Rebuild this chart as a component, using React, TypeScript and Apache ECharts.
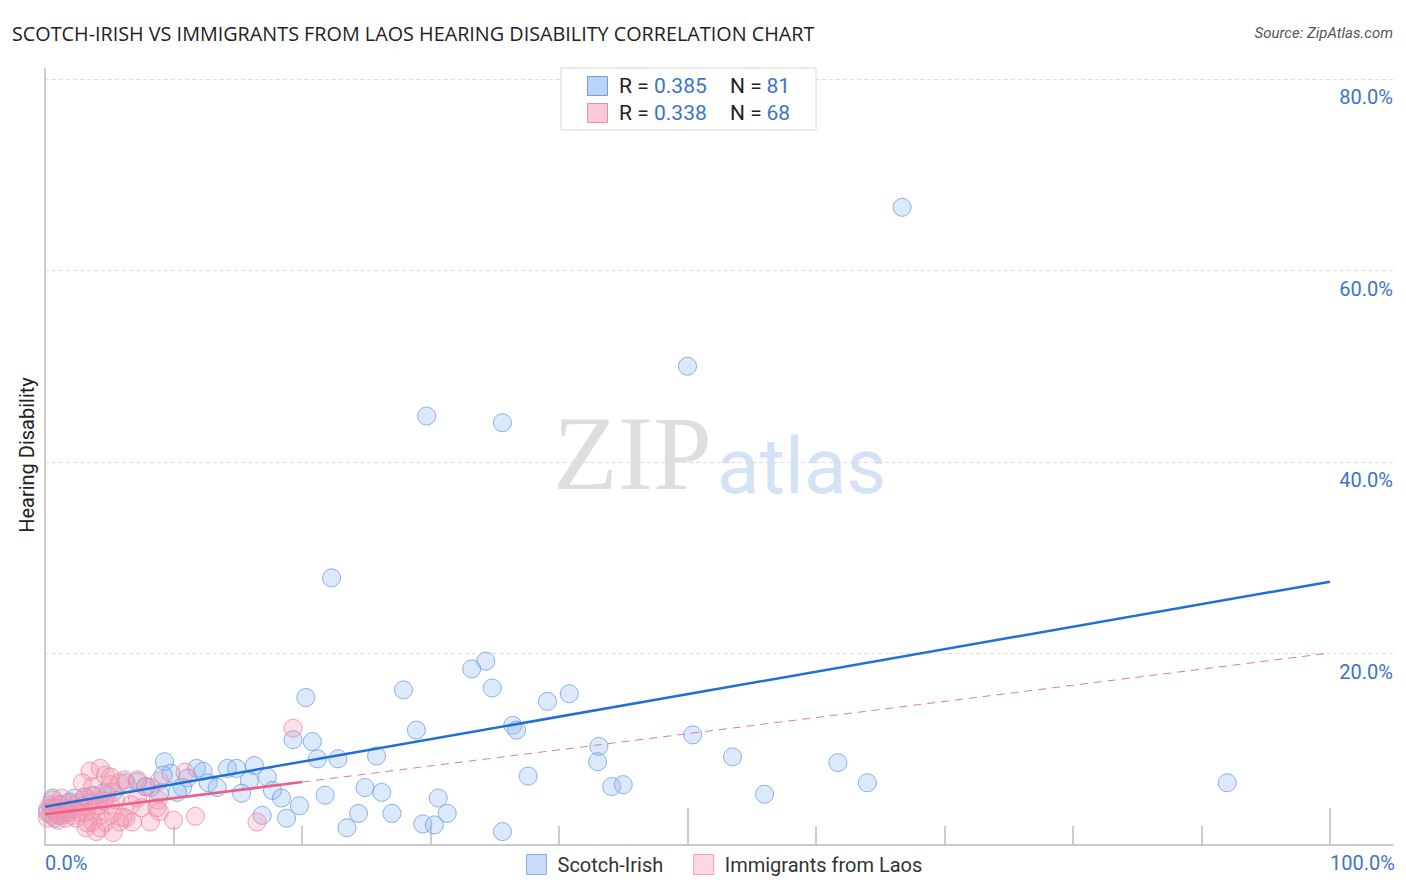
import React, { useEffect, useRef } from "react";
import * as echarts from "echarts";

const blueName = "Scotch-Irish";
const pinkName = "Immigrants from Laos";

const bluePoints: [number, number][] = [
  [66.7, 66.6], [50.0, 50.0], [29.7, 44.8], [35.6, 44.1], [22.3, 27.9],
  [34.3, 19.2], [33.2, 18.4], [34.8, 16.4], [27.9, 16.2], [40.8, 15.8],
  [39.1, 15.0], [20.3, 15.4], [36.4, 12.5], [36.7, 12.0], [28.9, 12.0],
  [50.4, 11.5], [19.3, 11.0], [20.8, 10.8], [43.1, 10.3], [21.2, 9.0],
  [22.8, 9.0], [25.8, 9.3], [53.5, 9.2], [43.0, 8.7], [61.7, 8.6],
  [9.3, 8.7], [9.8, 7.5], [11.8, 8.0], [12.3, 7.7], [14.2, 8.0],
  [14.9, 8.0], [16.3, 8.3], [17.3, 7.1], [37.6, 7.2], [64.0, 6.5],
  [92.0, 6.5], [44.1, 6.1], [45.0, 6.3], [24.9, 6.0], [26.2, 5.5],
  [21.8, 5.2], [17.7, 5.7], [18.4, 4.9], [56.0, 5.3], [30.6, 4.9],
  [19.8, 4.1], [16.9, 3.1], [18.8, 2.8], [24.4, 3.3], [27.0, 3.3],
  [31.3, 3.3], [23.5, 1.8], [29.4, 2.2], [30.3, 2.1], [35.6, 1.4],
  [11.1, 7.0], [12.7, 6.5], [13.4, 6.0], [15.9, 6.7], [15.3, 5.4],
  [10.7, 6.0], [10.3, 5.5], [8.9, 5.4], [8.2, 6.0], [9.2, 7.3],
  [6.3, 6.5], [7.2, 6.6], [7.8, 6.1], [5.3, 5.5], [4.5, 5.4],
  [3.7, 5.2], [3.1, 5.0], [2.3, 4.9], [0.6, 4.9], [0.8, 2.8],
  [0.5, 3.9], [1.2, 4.2], [0.2, 3.4], [1.6, 3.4], [1.9, 4.5],
  [1.0, 3.1],
];

const pinkPoints: [number, number][] = [
  [19.3, 12.2], [16.5, 2.4], [11.7, 3.0], [10.0, 2.6], [8.2, 2.4],
  [8.7, 3.9], [8.8, 4.7], [8.9, 6.7], [10.9, 7.6], [3.5, 7.7],
  [4.3, 8.0], [4.7, 7.3], [2.9, 6.5], [5.1, 7.1], [6.2, 6.8],
  [7.2, 6.8], [7.9, 6.1], [3.7, 6.1], [5.1, 6.3], [5.8, 6.5],
  [6.7, 4.2], [7.2, 4.9], [4.3, 3.1], [5.3, 3.3], [6.3, 2.8],
  [6.8, 2.4], [5.8, 2.4], [4.7, 2.4], [3.7, 2.4], [3.2, 1.8],
  [4.0, 1.4], [5.3, 1.3], [6.1, 2.9], [3.3, 2.3], [4.3, 1.8],
  [0.2, 3.7], [0.4, 4.2], [0.5, 3.1], [0.8, 3.9], [0.9, 3.4],
  [1.2, 4.2], [1.3, 3.1], [1.6, 3.8], [1.8, 3.4], [1.9, 4.3],
  [2.1, 3.1], [2.3, 3.8], [2.6, 4.4], [2.7, 3.4], [3.0, 4.1],
  [3.2, 3.4], [3.5, 4.4], [3.7, 3.7], [4.1, 4.1], [4.6, 4.6],
  [5.1, 4.2], [5.5, 4.7], [0.6, 4.7], [1.0, 2.6], [0.2, 2.8],
  [1.6, 2.8], [2.4, 2.8], [1.3, 4.9], [3.1, 5.0], [3.9, 5.1],
  [4.8, 5.2], [7.5, 3.9], [8.9, 3.5],
];

const blueTrend: [number, number][] = [[0, 4.0], [100, 27.5]];
const pinkTrendSolid: [number, number][] = [[0, 3.2], [20, 6.57]];
const pinkTrendDashed: [number, number][] = [[20, 6.57], [100, 20.05]];

const xTicksShort = [10, 20, 30, 40, 60, 70, 80, 90];
const xTicksLong = [50, 100];
const xLabelValues = [0, 100];

const legendRows = [
  { r: "0.385", n: "81" },
  { r: "0.338", n: "68" },
];

const FONT = "Roboto, 'Noto Sans', sans-serif";
const TITLE_FONT = "'Open Sans', Roboto, sans-serif";
const BLUE_FILL = "rgba(140,182,240,0.38)";
const BLUE_BORDER = "#6f9fe2";
const PINK_FILL = "rgba(245,150,178,0.38)";
const PINK_BORDER = "#ef89a8";
const LABEL_BLUE = "#3b74c9";

export default function App() {
  const ref = useRef<HTMLDivElement>(null);
  useEffect(() => {
    if (!ref.current) return;
    const chart = echarts.init(ref.current, undefined, { renderer: "svg" });
    const legendGraphics: any[] = [
      {
        type: "rect",
        shape: { x: 561, y: 68, width: 255, height: 62 },
        style: { fill: "#fff", stroke: "#d6d6d6", lineWidth: 1 },
        z: 10,
      },
    ];
    legendRows.forEach((row, i) => {
      const cy = 86 + i * 27;
      legendGraphics.push(
        {
          type: "rect",
          shape: { x: 587.5, y: cy - 9.5, width: 20, height: 19 },
          style: {
            fill: i === 0 ? "rgba(140,182,240,0.6)" : "rgba(245,150,178,0.5)",
            stroke: i === 0 ? BLUE_BORDER : PINK_BORDER,
            lineWidth: 1,
          },
          z: 11,
        },
        {
          type: "text",
          x: 619,
          y: cy,
          style: { text: "R =", fill: "#222", font: `21px ${FONT}`, verticalAlign: "middle" },
          z: 11,
        },
        {
          type: "text",
          x: 654,
          y: cy,
          style: { text: row.r, fill: LABEL_BLUE, font: `21px ${FONT}`, verticalAlign: "middle" },
          z: 11,
        },
        {
          type: "text",
          x: 730,
          y: cy,
          style: { text: "N =", fill: "#222", font: `21px ${FONT}`, verticalAlign: "middle" },
          z: 11,
        },
        {
          type: "text",
          x: 790,
          y: cy,
          style: { text: row.n, fill: LABEL_BLUE, font: `21px ${FONT}`, verticalAlign: "middle", align: "right" },
          z: 11,
        }
      );
    });

    const option: any = {
      animation: false,
      backgroundColor: "#fff",
      textStyle: { fontFamily: FONT },
      grid: { left: 45, right: 13, top: 79, bottom: 47, containLabel: false },
      xAxis: [
        {
          type: "value",
          min: 0,
          max: 104.9,
          position: "bottom",
          axisLine: { show: true, lineStyle: { color: "#bdbdbd", width: 1.5 } },
          axisTick: {
            show: true,
            inside: true,
            length: 19,
            customValues: xTicksShort,
            lineStyle: { color: "#bdbdbd", width: 1.5 },
          },
          axisLabel: {
            show: true,
            customValues: xLabelValues,
            align: "left",
            margin: 8,
            fontSize: 20,
            color: LABEL_BLUE,
            fontFamily: FONT,
            formatter: (v: number) => v.toFixed(1) + "%",
          },
          splitLine: { show: false },
        },
        {
          type: "value",
          min: 0,
          max: 104.9,
          position: "bottom",
          axisLine: { show: false },
          axisTick: {
            show: true,
            inside: true,
            length: 37,
            customValues: xTicksLong,
            lineStyle: { color: "#bdbdbd", width: 1.5 },
          },
          axisLabel: { show: false },
          splitLine: { show: false },
        },
      ],
      yAxis: {
        type: "value",
        min: 0,
        max: 80,
        interval: 20,
        position: "right",
        axisLine: { show: false },
        axisTick: { show: false },
        axisLabel: {
          inside: true,
          margin: 0,
          verticalAlign: "top",
          padding: [8, 0, 0, 0],
          fontSize: 20,
          color: LABEL_BLUE,
          fontFamily: FONT,
          formatter: (v: number) => (v === 0 ? "" : v.toFixed(1) + "%"),
        },
        splitLine: { show: true, lineStyle: { color: "#dcdcdc", type: [4, 3], width: 1 } },
      },
      legend: {
        data: [
          { name: blueName, itemStyle: { color: "rgba(140,182,240,0.6)", borderColor: BLUE_BORDER, borderWidth: 1 } },
          { name: pinkName, itemStyle: { color: "rgba(245,150,178,0.45)", borderColor: PINK_BORDER, borderWidth: 1 } },
        ],
        bottom: 12,
        left: 521,
        icon: "rect",
        itemWidth: 20,
        itemHeight: 20,
        itemGap: 30,
        textStyle: { fontSize: 20, color: "#333", fontFamily: FONT, padding: [0, 0, 0, 6] },
      },
      graphic: [
        {
          type: "line",
          shape: { x1: 45, y1: 68, x2: 45, y2: 845 },
          style: { stroke: "#bdbdbd", lineWidth: 1.5 },
        },
        {
          type: "text",
          x: 12,
          y: 33,
          style: {
            text: "SCOTCH-IRISH VS IMMIGRANTS FROM LAOS HEARING DISABILITY CORRELATION CHART",
            fill: "#222",
            font: `19.8px ${TITLE_FONT}`,
            verticalAlign: "middle",
          },
        },
        {
          type: "text",
          x: 1393,
          y: 33,
          style: {
            text: "Source: ZipAtlas.com",
            fill: "#555",
            font: `italic 15px ${FONT}`,
            align: "right",
            verticalAlign: "middle",
          },
        },
        {
          type: "text",
          x: 27,
          y: 455,
          rotation: Math.PI / 2,
          style: {
            text: "Hearing Disability",
            fill: "#222",
            font: `20px ${FONT}`,
            align: "center",
            verticalAlign: "middle",
          },
        },
        {
          type: "text",
          x: 553,
          y: 506,
          z: 0,
          style: {
            text: "ZIP",
            fill: "rgba(0,0,0,0.13)",
            font: `106px 'Liberation Serif', 'DejaVu Serif', serif`,
            verticalAlign: "bottom",
          },
        },
        {
          type: "text",
          x: 717,
          y: 505,
          z: 0,
          style: {
            text: "atlas",
            fill: "rgba(100,150,220,0.28)",
            font: `78px ${FONT}`,
            verticalAlign: "bottom",
          },
        },
        ...legendGraphics,
      ],
      series: [
        {
          name: blueName,
          type: "scatter",
          data: bluePoints,
          symbolSize: 18,
          itemStyle: { color: BLUE_FILL, borderColor: BLUE_BORDER, borderWidth: 1 },
          z: 2,
        },
        {
          name: pinkName,
          type: "scatter",
          data: pinkPoints,
          symbolSize: 18,
          itemStyle: { color: PINK_FILL, borderColor: PINK_BORDER, borderWidth: 1 },
          z: 3,
        },
        {
          name: "blueTrend",
          type: "line",
          data: blueTrend,
          showSymbol: false,
          symbol: "none",
          lineStyle: { color: "#1f6fd6", width: 2.5 },
          z: 5,
          silent: true,
        },
        {
          name: "pinkTrendSolid",
          type: "line",
          data: pinkTrendSolid,
          showSymbol: false,
          symbol: "none",
          lineStyle: { color: "#e8608a", width: 2.5 },
          z: 5,
          silent: true,
        },
        {
          name: "pinkTrendDashed",
          type: "line",
          data: pinkTrendDashed,
          showSymbol: false,
          symbol: "none",
          lineStyle: { color: "#e07a9a", width: 1, type: [8, 6] },
          z: 5,
          silent: true,
        },
      ],
    };
    chart.setOption(option);
    return () => chart.dispose();
  }, []);
  return (
    <div
      ref={ref}
      style={{ position: "fixed", left: 0, top: 0, width: 1406, height: 892 }}
    />
  );
}
